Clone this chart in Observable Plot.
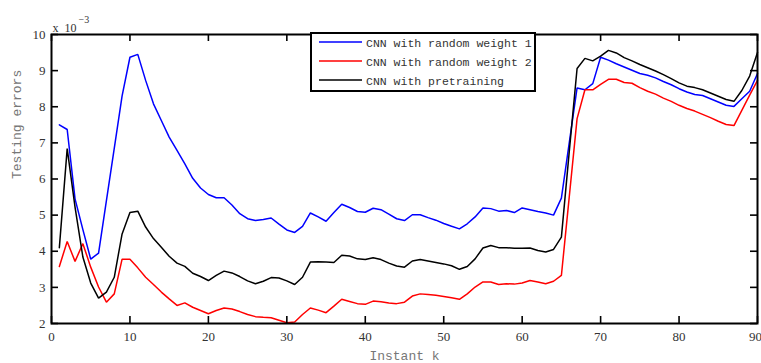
<!DOCTYPE html>
<html><head><meta charset="utf-8">
<script src="https://cdn.jsdelivr.net/npm/d3@7"></script>
<script src="https://cdn.jsdelivr.net/npm/@observablehq/plot@0.6"></script>
<style>
body{margin:0;background:#fff}
#chart{width:761px;height:363px}
#chart svg .serif, #chart svg .serif text{font-family:"Liberation Serif","Times New Roman",serif !important}
#chart svg .mono, #chart svg .mono text{font-family:"Liberation Mono","Courier New",monospace !important}
</style>
</head><body><div id="chart"></div>
<script>
// Instants k = 1..90
const instants = d3.range(1, 91);
// Testing errors, in units of 10^-3
const random1 = [7.5,7.37,5.45,4.6,3.78,3.95,5.4,6.85,8.3,9.37,
  9.45,8.73,8.08,7.62,7.16,6.79,6.42,6.02,5.75,5.57,
  5.48,5.48,5.28,5.04,4.9,4.85,4.88,4.92,4.75,4.59,
  4.52,4.69,5.06,4.95,4.83,5.07,5.3,5.21,5.1,5.08,
  5.19,5.15,5.03,4.9,4.85,5.01,5.01,4.93,4.86,4.77,
  4.69,4.62,4.76,4.95,5.2,5.18,5.11,5.13,5.07,5.2,
  5.15,5.1,5.06,5.0,5.47,7.0,8.52,8.47,8.64,9.37,
  9.29,9.19,9.1,9.01,8.92,8.87,8.8,8.7,8.61,8.5,
  8.41,8.34,8.31,8.22,8.13,8.04,8.01,8.22,8.43,8.92];
const random2 = [3.58,4.27,3.72,4.21,3.56,3.01,2.59,2.82,3.78,3.78,
  3.54,3.28,3.08,2.87,2.68,2.5,2.57,2.45,2.36,2.27,
  2.36,2.43,2.4,2.33,2.25,2.19,2.17,2.16,2.09,2.02,
  2.04,2.25,2.43,2.37,2.3,2.48,2.67,2.61,2.55,2.53,
  2.62,2.6,2.57,2.55,2.59,2.76,2.82,2.8,2.78,2.75,
  2.71,2.67,2.82,3.01,3.15,3.15,3.08,3.1,3.09,3.12,
  3.19,3.15,3.1,3.17,3.33,5.5,7.67,8.47,8.47,8.62,
  8.76,8.76,8.67,8.65,8.53,8.43,8.35,8.24,8.15,8.04,
  7.95,7.88,7.79,7.7,7.6,7.51,7.48,7.9,8.32,8.73];
const pretraining = [4.1,6.84,5.22,3.84,3.12,2.7,2.87,3.28,4.48,5.07,
  5.11,4.67,4.35,4.11,3.86,3.67,3.58,3.39,3.3,3.19,
  3.33,3.45,3.4,3.3,3.18,3.1,3.17,3.27,3.26,3.18,
  3.08,3.28,3.7,3.71,3.7,3.69,3.89,3.87,3.79,3.77,
  3.82,3.77,3.67,3.59,3.56,3.73,3.77,3.73,3.69,3.65,
  3.6,3.5,3.58,3.79,4.09,4.16,4.1,4.1,4.08,4.08,
  4.09,4.02,3.98,4.05,4.39,6.75,9.06,9.34,9.27,9.4,
  9.56,9.49,9.36,9.27,9.17,9.08,8.99,8.89,8.78,8.66,
  8.57,8.53,8.47,8.38,8.29,8.2,8.15,8.45,8.85,9.5];
const seriesNames = ["CNN with random weight 1", "CNN with random weight 2", "CNN with pretraining"];
const seriesColors = ["#0000ff", "#ff0000", "#000000"];
const xTicks = [0, 10, 20, 30, 40, 50, 60, 70, 80, 90];
const yTicks = [2, 3, 4, 5, 6, 7, 8, 9, 10];
const xLabel = "Instant k";
const yLabel = "Testing errors";

const seriesValues = [random1, random2, pretraining];
const rows = [];
seriesNames.forEach((name, i) => {
  instants.forEach((k, j) => rows.push({series: name, k, v: seriesValues[i][j]}));
});

const W = 761, H = 363, mL = 51, mR = 4, mT = 34, mB = 40;
const fw = W - mL - mR, fh = H - mT - mB, tl = 7;
const lastTick = xTicks[xTicks.length - 1];

const plot = Plot.plot({
  width: W, height: H,
  marginLeft: mL, marginRight: mR, marginTop: mT, marginBottom: mB,
  style: {background: "white", color: "black", overflow: "visible"},
  x: {domain: [0, 90], ticks: xTicks},
  y: {domain: [2, 10], ticks: yTicks},
  color: {domain: seriesNames, range: seriesColors},
  marks: [
    Plot.line(rows, {x: "k", y: "v", z: "series", stroke: "series", strokeWidth: 1.5, strokeLinejoin: "miter"}),
    Plot.tickX(xTicks, {x: d => d, insetTop: fh - tl, stroke: "black", strokeWidth: 1.6}),
    Plot.tickX(xTicks, {x: d => d, insetBottom: fh - tl, stroke: "black", strokeWidth: 1.6}),
    Plot.tickY(yTicks, {y: d => d, insetRight: fw - tl, stroke: "black", strokeWidth: 1.6}),
    Plot.tickY(yTicks, {y: d => d, insetLeft: fw - tl, stroke: "black", strokeWidth: 1.6}),
    Plot.frame({stroke: "black", strokeWidth: 2}),
    Plot.axisX({anchor: "bottom", ticks: xTicks.filter(t => t !== lastTick), tickSize: 0, tickPadding: 8, label: null, fill: "#333", fontSize: 13, className: "serif"}),
    Plot.axisX({anchor: "bottom", ticks: [lastTick], tickSize: 0, tickPadding: 8, dx: -2, label: null, fill: "#333", fontSize: 13, className: "serif"}),
    Plot.axisY({anchor: "left", ticks: yTicks, tickSize: 0, tickPadding: 6, label: null, fill: "#333", fontSize: 13, className: "serif"}),
    Plot.text([xLabel], {frameAnchor: "bottom", dy: 32, fontSize: 13, fill: "#777", lineAnchor: "middle", className: "mono"}),
    Plot.text([yLabel], {frameAnchor: "left", dx: -35, rotate: -90, fontSize: 13, fill: "#777", lineAnchor: "middle", className: "mono"}),
    Plot.text(["x"], {frameAnchor: "top-left", dx: 1, dy: -11, textAnchor: "start", fontSize: 12, fill: "#333", className: "serif"}),
    Plot.text(["10"], {frameAnchor: "top-left", dx: 13, dy: -11, textAnchor: "start", fontSize: 12, fill: "#333", className: "serif"}),
    Plot.text(["\u22123"], {frameAnchor: "top-left", dx: 27, dy: -19, textAnchor: "start", fontSize: 10, fill: "#333", className: "serif"})
  ]
});

// legend box (upper middle, touching the top frame)
const svg = d3.select(plot);
const lg = svg.append("g").attr("text-anchor", "start");
const lx = 311, ly = 33, lw = 224, lh = 58;
lg.append("rect").attr("x", lx).attr("y", ly).attr("width", lw).attr("height", lh)
  .attr("fill", "white").attr("stroke", "black").attr("stroke-width", 2);
seriesNames.forEach((name, i) => {
  const yy = ly + 9 + i * 19;
  lg.append("line").attr("x1", lx + 8).attr("x2", lx + 51).attr("y1", yy).attr("y2", yy)
    .attr("stroke", seriesColors[i]).attr("stroke-width", 1.5);
  lg.append("text").attr("x", lx + 55).attr("y", yy + 4.5).text(name)
    .attr("text-anchor", "start").attr("class", "mono")
    .attr("font-size", 11.5).attr("fill", "#333");
});

document.getElementById("chart").appendChild(plot);
</script>
</body></html>
